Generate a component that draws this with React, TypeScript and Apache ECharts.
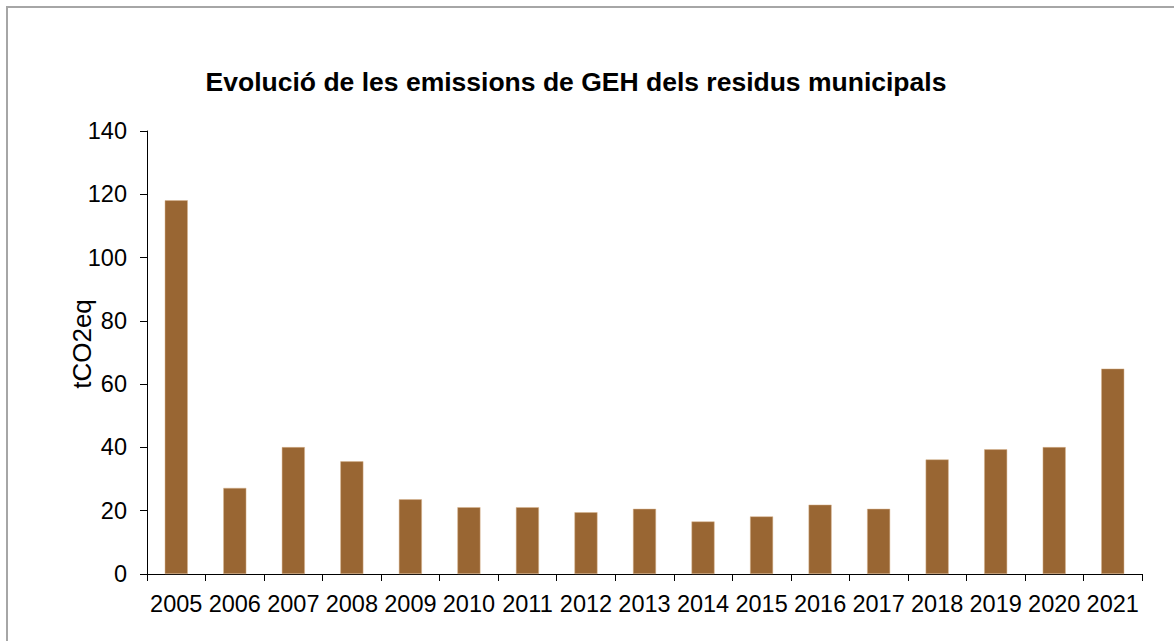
import React, { useEffect, useRef } from "react";
import * as echarts from "echarts";

const years = ["2005","2006","2007","2008","2009","2010","2011","2012","2013","2014","2015","2016","2017","2018","2019","2020","2021"];
const emissions = [118.1, 27.2, 40.1, 35.6, 23.6, 21.1, 21.1, 19.5, 20.6, 16.6, 18.2, 21.9, 20.6, 36.2, 39.4, 40.1, 64.9];
const titleText = "Evolució de les emissions de GEH dels residus municipals";
const yAxisTitle = "tCO2eq";

export default function App() {
  const ref = useRef<HTMLDivElement>(null);
  useEffect(() => {
    document.body.style.margin = "0";
    const chart = echarts.init(ref.current!, null, { renderer: "svg" });
    const font = "'Liberation Sans', Arial, sans-serif";
    chart.setOption({
      animation: false,
      backgroundColor: "#ffffff",
      graphic: [
        {
          type: "rect",
          shape: { x: 7, y: 7, width: 1300, height: 800 },
          style: { fill: "none", stroke: "#a6a6a6", lineWidth: 2 },
          silent: true,
        },
        {
          type: "text",
          x: 576,
          y: 82,
          style: {
            text: titleText,
            font: `bold 26.5px ${font}`,
            fill: "#000",
            textAlign: "center",
            textVerticalAlign: "middle",
          },
        },
        {
          type: "text",
          x: 82,
          y: 344,
          rotation: Math.PI / 2,
          style: {
            text: yAxisTitle,
            font: `26px ${font}`,
            fill: "#000",
            textAlign: "center",
            textVerticalAlign: "middle",
          },
        },
      ],
      grid: { left: 147, right: 32, top: 131, bottom: 67, containLabel: false },
      xAxis: {
        type: "category",
        data: years,
        boundaryGap: true,
        axisLine: { show: true, lineStyle: { color: "#000", width: 1 } },
        axisTick: { show: true, alignWithLabel: false, length: 7, inside: false, lineStyle: { color: "#000" } },
        axisLabel: { color: "#000", fontSize: 23.5, fontFamily: font, margin: 18, interval: 0 },
        splitLine: { show: false },
      },
      yAxis: {
        type: "value",
        min: 0,
        max: 140,
        interval: 20,
        axisLine: { show: true, lineStyle: { color: "#000", width: 1 } },
        axisTick: { show: true, length: 7, lineStyle: { color: "#000" } },
        axisLabel: { color: "#000", fontSize: 23.5, fontFamily: font, margin: 20 },
        splitLine: { show: false },
      },
      series: [
        {
          type: "bar",
          data: emissions,
          barWidth: 23,
          itemStyle: { color: "#996633", borderColor: "#d9b48f", borderWidth: 0.5 },
        },
      ],
    });
    return () => chart.dispose();
  }, []);
  return <div ref={ref} style={{ width: 1174, height: 641 }} />;
}
